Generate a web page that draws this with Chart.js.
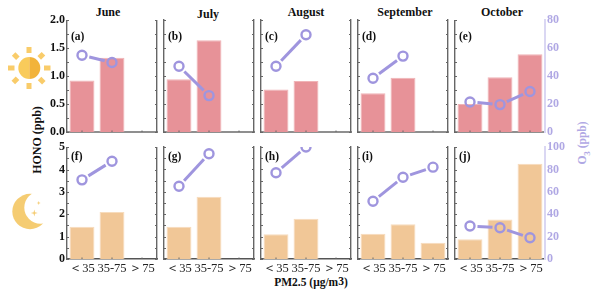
<!DOCTYPE html>
<html><head><meta charset="utf-8">
<script src="https://cdn.jsdelivr.net/npm/chart.js@4"></script>
<style>
html,body{margin:0;padding:0;background:#fff;overflow:hidden}
body{width:600px;height:297px;position:relative;font-family:"Liberation Serif",serif;color:#111}
canvas{position:absolute}
.t{position:absolute;font-weight:bold;white-space:nowrap;transform:translate(-50%,-50%);font-size:12px;line-height:1}
.r{transform:translate(-50%,-50%) rotate(-90deg)}
svg{position:absolute;left:0;top:0}
sup,sub{font-size:9px;line-height:0}
</style></head><body>
<svg width="60" height="297">
<g fill="#F9CC6A">
<rect x="26.5" y="47" width="5" height="6"/><rect x="26.5" y="83" width="5" height="6"/>
<rect x="8" y="65.5" width="6.5" height="5"/><rect x="44" y="65.5" width="6.5" height="5"/>
<rect x="13" y="53" width="5" height="6" transform="rotate(-45 15.7 55.7)"/>
<rect x="39" y="53" width="5" height="6" transform="rotate(45 41.7 55.7)"/>
<rect x="13" y="77.5" width="5" height="6" transform="rotate(45 15.7 80.3)"/>
<rect x="39" y="77.5" width="5" height="6" transform="rotate(-45 41.7 80.3)"/>
</g>
<path d="M29.3 57A11 11 0 0 0 29.3 79Z" fill="#F9CB5B"/>
<path d="M29.3 57A11 11 0 0 1 29.3 79Z" fill="#F2B33A"/>
<circle cx="30" cy="211.5" r="17.7" fill="#F5CC72"/>
<circle cx="40.5" cy="207.5" r="16.2" fill="#fff"/>
<path d="M34.3 209.5L35 212.3 37.8 213 35 213.7 34.3 216.5 33.6 213.7 30.8 213 33.6 212.3Z" fill="#F5CC72"/>
<path d="M38.7 201L39.2 202.5 40.7 203 39.2 203.5 38.7 205 38.2 203.5 36.7 203 38.2 202.5Z" fill="#F5CC72"/>
</svg>
<div class="t" style="left:108px;top:12px">June</div>
<div class="t" style="left:208px;top:14px">July</div>
<div class="t" style="left:306px;top:12px">August</div>
<div class="t" style="left:405px;top:12px">September</div>
<div class="t" style="left:502px;top:12px">October</div>
<div class="t r" style="left:37px;top:140px">HONO (ppb)</div>
<div class="t" style="left:311px;top:283px;font-size:11.5px">PM2.5 (μg/m<span style="position:relative;top:-1px">3</span>)</div>
<div class="t r" style="left:583px;top:143px;color:#B0A8E4;font-size:11.5px">O<sub>3</sub> (ppb)</div>
<script>
const categories = ['＜35', '35-75', '＞75'];
const panelLabels = ['(a)','(b)','(c)','(d)','(e)','(f)','(g)','(h)','(i)','(j)'];
const honoDay = [[0.92,1.33,null],[0.94,1.64,null],[0.76,0.91,null],[0.69,0.97,null],[0.50,0.98,1.39]];
const o3Day = [[54.9,49.7,null],[47,26,null],[47,69.5,null],[38.4,54.2,null],[21.5,19.6,29]];
const honoNight = [[1.44,2.1,null],[1.44,2.78,null],[1.1,1.8,null],[1.13,1.55,0.73],[0.88,1.77,4.26]];
const o3Night = [[70.8,87.5,null],[64.9,94,null],[77,100,null],[51.5,73,82],[29.5,28,19]];
const honoTicks = [[0,2,0.5,0.25],[0,5,1,0.5]];
const o3Ticks = [[0,80,20],[0,100,20]];
const panelLefts = [67,164,261,358,455];
const panelWidth = 90;
const rows = [{top:20,h:112,bar:'#E79298',edge:'#F0B4B7',hono:honoDay,o3:o3Day,axis:'#8f8f8f',axisW:2},
              {top:147,h:112,bar:'#F1C797',edge:'#F7DCBD',hono:honoNight,o3:o3Night,axis:'#555',axisW:1.4}];
const LM=36, RM=30, TM=9, BM=24;
const LINE='#9F95DE', SOFT='#B0A8E4';

const panelPlugin = {
  id:'panel',
  afterDatasetsDraw(c,args,o){
    const g=c.ctx, a=c.chartArea, L=c.scales.y;
    g.save();
    g.strokeStyle='#666'; g.lineWidth=1;
    for(let v=o.min;v<=o.max+1e-6;v+=o.minor){
      const y=Math.round(L.getPixelForValue(v))+.5;
      g.beginPath(); g.moveTo(a.left,y); g.lineTo(a.left+2,y);
      if(!o.last){g.moveTo(a.right,y); g.lineTo(a.right-2,y);}
      g.stroke();
    }
    c.scales.x.ticks.forEach((t,i)=>{
      const x=c.scales.x.getPixelForTick(i);
      g.beginPath(); g.moveTo(x,a.bottom); g.lineTo(x,a.bottom-1.5); g.stroke();
    });
    g.beginPath(); g.rect(a.left,a.top,a.right-a.left,a.bottom-a.top); g.clip();
    const pts=c.getDatasetMeta(1).data.filter((p,i)=>c.data.datasets[1].data[i]!=null);
    g.strokeStyle=LINE; g.lineWidth=3;
    for(let i=0;i<pts.length-1;i++){
      const p=pts[i],q=pts[i+1],d=Math.hypot(q.x-p.x,q.y-p.y),k=7.5/d;
      g.beginPath();
      g.moveTo(p.x+(q.x-p.x)*k,p.y+(q.y-p.y)*k);
      g.lineTo(q.x-(q.x-p.x)*k,q.y-(q.y-p.y)*k);
      g.stroke();
    }
    g.restore();
    g.save();
    g.font='bold 11.5px "Liberation Serif"'; g.fillStyle='#111';
    g.textBaseline='middle';
    g.fillText(o.label,a.left+4,a.top+o.labelDy);
    g.restore();
  }
};

rows.forEach((row,ri)=>{
  panelLefts.forEach((left,ci)=>{
    const cv=document.createElement('canvas');
    cv.width=LM+panelWidth+RM; cv.height=TM+row.h+BM;
    cv.style.left=(left-LM)+'px'; cv.style.top=(row.top-TM)+'px';
    cv.style.zIndex=5-ci;
    document.body.appendChild(cv);
    const [ymin,ymax,ystep,yminor]=honoTicks[ri];
    const [omin,omax,ostep]=o3Ticks[ri];
    const last=ci===4, first=ci===0, bottom=ri===1;
    new Chart(cv,{
      data:{labels:categories,datasets:[
        {type:'bar',order:1,yAxisID:'y',data:row.hono[ci],backgroundColor:row.bar,
         borderColor:row.edge,borderWidth:1,categoryPercentage:1,barPercentage:0.83},
        {type:'line',order:0,yAxisID:'o3',data:row.o3[ci],showLine:false,
         pointRadius:4.5,pointHoverRadius:4.5,pointBorderWidth:2.4,
         pointBorderColor:LINE,pointBackgroundColor:'rgba(255,255,255,0)'}
      ]},
      options:{
        responsive:false,animation:false,events:[],
        layout:{padding:{top:TM,left:0,right:0,bottom:0}},
        plugins:{legend:{display:false},tooltip:{enabled:false},
          panel:{label:panelLabels[ri*5+ci],labelDy:ri?10:17,min:ymin,max:ymax,minor:yminor,last}},
        scales:{
          x:{grid:{display:false,drawTicks:false},
             border:{color:row.axis,width:row.axisW},
             ticks:{display:bottom,padding:2,maxRotation:0,autoSkip:false,color:'#222',
               font:{family:'"Liberation Serif"',size:12.5}},
             afterFit(s){s.height=BM;}},
          y:{position:'left',min:ymin,max:ymax,grid:{display:false,drawTicks:false},
             border:{color:'#666',width:1.4},
             ticks:{display:first,stepSize:ystep,padding:2,color:'#111',
               font:{family:'"Liberation Serif"',size:12,weight:'bold'},
               callback:v=>ri?String(v):Number(v).toFixed(1)},
             afterFit(s){s.width=LM;}},
          o3:{position:'right',min:omin,max:omax,grid:{display:false,drawTicks:false},
             border:{color:last?'#DAD7F3':'#666',width:last?2:1.4},
             ticks:{display:last,stepSize:ostep,padding:2,color:SOFT,
               font:{family:'"Liberation Serif"',size:12,weight:'bold'}},
             afterFit(s){s.width=RM;}}
        }
      },
      plugins:[panelPlugin]
    });
  });
});
</script>
</body></html>
